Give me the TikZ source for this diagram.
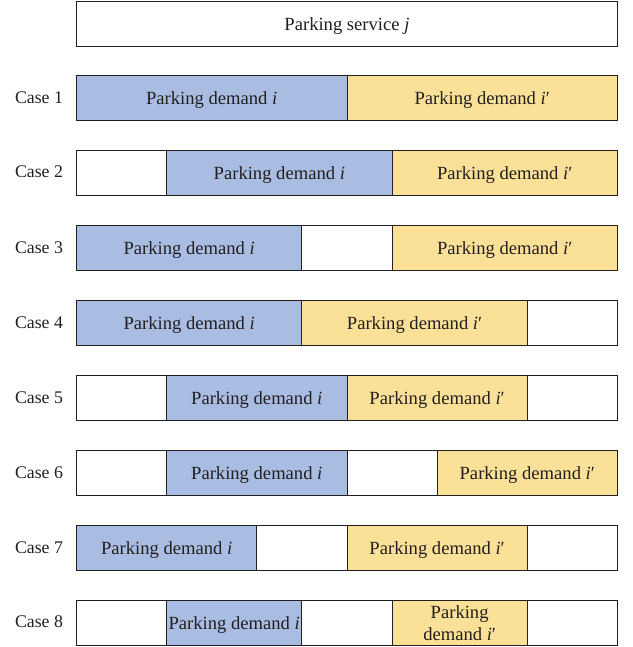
\documentclass[tikz,border=0pt]{standalone}
\usepackage{fontspec}
\setmainfont{Liberation Serif}
\definecolor{blueC}{RGB}{169,189,226}
\definecolor{yellowC}{RGB}{251,225,152}
\definecolor{lineC}{RGB}{35,31,32}
\begin{document}
\begin{tikzpicture}[x=1pt,y=1pt,
  seg/.style={draw=lineC, line width=0.9pt, minimum height=45pt, inner sep=0pt, anchor=north west, font=\fontsize{18.6}{22}\selectfont, text=lineC, align=center, text height=17.5pt, text depth=4pt},
  bseg/.style={seg, fill=blueC},
  yseg/.style={seg, fill=yellowC},
  wseg/.style={seg, fill=white},
  caselab/.style={font=\fontsize{17.8}{20}\selectfont, text=lineC, anchor=center}]
\useasboundingbox (0,0) rectangle (632,-647);
\def\u{90.1667}
% top
\node[wseg, minimum width=6*\u] (top) at (76,-1) {Parking service \textit{j}};
% Case 1
\node[caselab] (l1) at (39,-97.5) {Case 1};
\node[bseg, minimum width=3*\u] (c1a) at (76,-75) {Parking demand \textit{i}};
\node[yseg, minimum width=3*\u] (c1b) at (76+3*\u,-75) {Parking demand \textit{i}′};
% Case 2
\node[caselab] (l2) at (39,-172) {Case 2};
\node[wseg, minimum width=1*\u] (c2a) at (76,-150) {};
\node[bseg, minimum width=2.5*\u] (c2b) at (76+1*\u,-150) {Parking demand \textit{i}};
\node[yseg, minimum width=2.5*\u] (c2c) at (76+3.5*\u,-150) {Parking demand \textit{i}′};
% Case 3
\node[caselab] (l3) at (39,-247.5) {Case 3};
\node[bseg, minimum width=2.5*\u] (c3a) at (76,-225) {Parking demand \textit{i}};
\node[wseg, minimum width=1*\u] (c3b) at (76+2.5*\u,-225) {};
\node[yseg, minimum width=2.5*\u] (c3c) at (76+3.5*\u,-225) {Parking demand \textit{i}′};
% Case 4
\node[caselab] (l4) at (39,-322.5) {Case 4};
\node[bseg, minimum width=2.5*\u] (c4a) at (76,-300) {Parking demand \textit{i}};
\node[yseg, minimum width=2.5*\u] (c4b) at (76+2.5*\u,-300) {Parking demand \textit{i}′};
\node[wseg, minimum width=1*\u] (c4c) at (76+5*\u,-300) {};
% Case 5
\node[caselab] (l5) at (39,-397.5) {Case 5};
\node[wseg, minimum width=1*\u] (c5a) at (76,-375) {};
\node[bseg, minimum width=2*\u] (c5b) at (76+1*\u,-375) {Parking demand \textit{i}};
\node[yseg, minimum width=2*\u] (c5c) at (76+3*\u,-375) {Parking demand \textit{i}′};
\node[wseg, minimum width=1*\u] (c5d) at (76+5*\u,-375) {};
% Case 6
\node[caselab] (l6) at (39,-472.5) {Case 6};
\node[wseg, minimum width=1*\u] (c6a) at (76,-450) {};
\node[bseg, minimum width=2*\u] (c6b) at (76+1*\u,-450) {Parking demand \textit{i}};
\node[wseg, minimum width=1*\u] (c6c) at (76+3*\u,-450) {};
\node[yseg, minimum width=2*\u] (c6d) at (76+4*\u,-450) {Parking demand \textit{i}′};
% Case 7
\node[caselab] (l7) at (39,-547.5) {Case 7};
\node[bseg, minimum width=2*\u] (c7a) at (76,-525) {Parking demand \textit{i}};
\node[wseg, minimum width=1*\u] (c7b) at (76+2*\u,-525) {};
\node[yseg, minimum width=2*\u] (c7c) at (76+3*\u,-525) {Parking demand \textit{i}′};
\node[wseg, minimum width=1*\u] (c7d) at (76+5*\u,-525) {};
% Case 8
\node[caselab] (l8) at (39,-622) {Case 8};
\node[wseg, minimum width=1*\u] (c8a) at (76,-600) {};
\node[bseg, minimum width=1.5*\u] (c8b) at (76+1*\u,-600) {Parking demand \textit{i}};
\node[wseg, minimum width=1*\u] (c8c) at (76+2.5*\u,-600) {};
\node[yseg, minimum width=1.5*\u, text height=, text depth=] (c8d) at (76+3.5*\u,-600) {Parking\\demand \textit{i}′};
\node[wseg, minimum width=1*\u] (c8e) at (76+5*\u,-600) {};
\end{tikzpicture}
\end{document}
